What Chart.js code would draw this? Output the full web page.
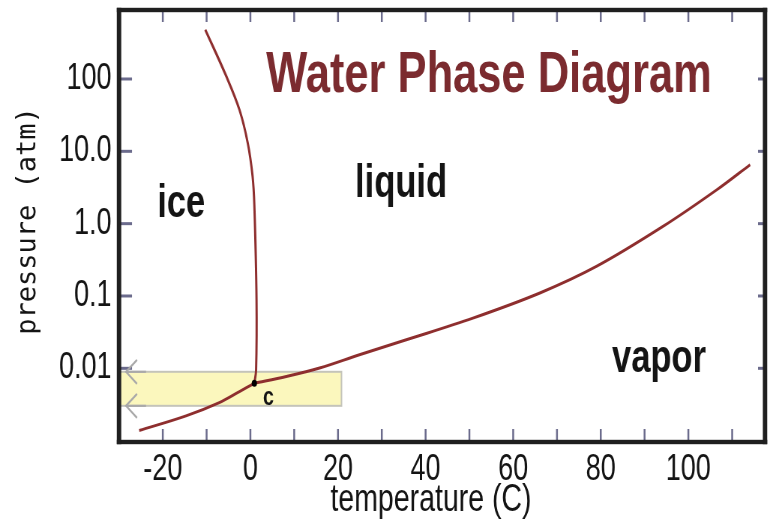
<!DOCTYPE html>
<html><head><meta charset="utf-8">
<script src="https://cdn.jsdelivr.net/npm/chart.js@4"></script>
<style>html,body{margin:0;padding:0;background:#fff;} canvas{display:block;}</style>
</head><body>
<canvas id="c" width="1027" height="524" style="width:770px;height:524px"></canvas>
<script>
// ---- data (temperature in C, pressure in atm) ----
const meltTemp = [-10.3, -5.5, -2.5, -0.6, 0.5, 0.9, 1.4, 1.3, 0.9];
const meltPres = [480, 109, 37.6, 13.0, 4.5, 1.8, 0.089, 0.0095, 0.0062];
const subTemp = [-25.4, -14.7, -7.1, -2.5, 0.9];
const subPres = [0.00138, 0.0022, 0.00336, 0.00477, 0.0062];
const vapTemp = [0.9, 8.2, 15.8, 24.9, 35.6, 50.8, 66.1, 79.0, 94.2, 106.5, 114.1];
const vapPres = [0.0062, 0.0077, 0.0101, 0.0154, 0.0248, 0.0494, 0.110, 0.256, 0.915, 2.94, 6.53];
const tripleTemp = [0.9];
const triplePres = [0.0062];
const boxTemp = [-30, 20.8];
const boxPres = [0.00303, 0.00895];
const xTickValues = [-30, -20, -10, 0, 10, 20, 30, 40, 50, 60, 70, 80, 90, 100, 110];
const xTickLabels = ['', '-20', '', '0', '', '20', '', '40', '', '60', '', '80', '', '100', ''];
const yTickValues = [0.01, 0.1, 1, 10, 100];
const yTickLabels = ['0.01', '0.1', '1.0', '10.0', '100'];
const regionNames = ['ice', 'liquid', 'vapor', 'c'];
const regionTemp = [-15.8, 34.4, 93.3, 4.1];
const regionPres = [1.24, 2.35, 0.00895, 0.00313];
const titleText = 'Water Phase Diagram';
const xTitle = 'temperature (C)';
const yTitle = 'pressure (atm)';

// ---- styling / layout ----
const SX = 1027 / 770; // canvas drawn wide, displayed horizontally squeezed
const curveColor = '#8e2e2e';
const tickColor = '#6b6b8c';
const frameColor = '#1f1f1f';
const textColor = '#141414';
const FONT = '"Liberation Sans", Arial, sans-serif';

const pts = (xs, ys) => xs.map((v, i) => ({x: v, y: ys[i]}));

const decor = {
  id: 'decor',
  beforeDraw(chart) {
    const c = chart.ctx; c.save(); c.fillStyle = '#fff'; c.fillRect(0, 0, chart.width, chart.height); c.restore();
  },
  beforeDatasetsDraw(chart) {
    const {ctx, chartArea: a, scales: {x, y}} = chart;
    ctx.save();
    const line = (x1, y1, x2, y2) => { ctx.beginPath(); ctx.moveTo(x1, y1); ctx.lineTo(x2, y2); ctx.stroke(); };
    ctx.strokeStyle = tickColor; ctx.lineWidth = 2.5;
    x.ticks.forEach(t => { const px = x.getPixelForValue(t.value); line(px, a.bottom, px, a.bottom - 13); line(px, a.top, px, a.top + 12); });
    y.ticks.forEach(t => { const py = y.getPixelForValue(t.value); ctx.lineWidth = 3; line(a.left, py, a.left + 13 * SX, py); line(a.right, py, a.right - 7 * SX, py); });
    // highlight box
    const bx0 = x.getPixelForValue(boxTemp[0]), bx1 = x.getPixelForValue(boxTemp[1]);
    const by0 = y.getPixelForValue(boxPres[1]), by1 = y.getPixelForValue(boxPres[0]);
    ctx.fillStyle = '#fbf7bd';
    ctx.fillRect(bx0, by0, bx1 - bx0, by1 - by0);
    ctx.strokeStyle = '#c4c4ba'; ctx.lineWidth = 2;
    ctx.strokeRect(bx0, by0, bx1 - bx0, by1 - by0);
    // arrows pointing to the pressure axis
    ctx.strokeStyle = '#a9a9a9'; ctx.lineWidth = 2.2;
    boxPres.forEach(p => {
      const py = y.getPixelForValue(p);
      const tip = a.left + 7 * SX;
      ctx.beginPath(); ctx.moveTo(tip + 11 * SX, py - 12); ctx.lineTo(tip, py); ctx.lineTo(tip + 11 * SX, py + 12); ctx.stroke();
      ctx.beginPath(); ctx.moveTo(tip, py); ctx.lineTo(tip + 20 * SX, py); ctx.stroke();
    });
    ctx.restore();
  },
  afterDatasetsDraw(chart) {
    const {ctx, chartArea: a} = chart;
    ctx.save();
    ctx.fillStyle = frameColor;
    const hw = 2.2, vw = 2.2 * SX;
    ctx.fillRect(a.left - vw, a.top - hw, a.right - a.left + 2 * vw, 2 * hw);
    ctx.fillRect(a.left - vw, a.bottom - hw, a.right - a.left + 2 * vw, 2 * hw);
    ctx.fillRect(a.left - vw, a.top - hw, 2 * vw, a.bottom - a.top + 2 * hw);
    ctx.fillRect(a.right - vw, a.top - hw, 2 * vw, a.bottom - a.top + 2 * hw);
    ctx.restore();
  },
  afterDraw(chart) {
    const {ctx, chartArea: a, scales: {x, y}} = chart;
    ctx.save();
    ctx.textAlign = 'center'; ctx.textBaseline = 'alphabetic';
    // title
    ctx.fillStyle = '#7b2b2f';
    ctx.font = 'bold 58px ' + FONT;
    ctx.fillText(titleText, 489 * SX, 92);
    // region labels
    ctx.fillStyle = textColor;
    regionNames.forEach((n, i) => {
      ctx.font = (n === 'c' ? 'bold 26px ' : 'bold 46px ') + FONT;
      ctx.fillText(n, x.getPixelForValue(regionTemp[i]), y.getPixelForValue(regionPres[i]));
    });
    // axis titles
    ctx.font = '38px ' + FONT;
    ctx.fillText(xTitle, 431 * SX, 511);
    ctx.save();
    ctx.translate(28 * SX, 221);
    ctx.rotate(-Math.PI / 2);
    ctx.scale(1, SX);
    ctx.textBaseline = 'middle';
    ctx.font = '27px "DejaVu Sans Mono", "Liberation Mono", monospace';
    ctx.fillText(yTitle, 0, 0);
    ctx.restore();
    ctx.restore();
  }
};

const curve = (data) => ({data, showLine: true, borderColor: curveColor, borderWidth: 3, pointRadius: 0, tension: 0.35, fill: false});

new Chart(document.getElementById('c'), {
  type: 'scatter',
  data: {
    datasets: [
      {data: pts(tripleTemp, triplePres), showLine: false, pointRadius: 3.5, pointBackgroundColor: '#000', pointBorderColor: '#000', pointBorderWidth: 0},
      curve(pts(meltTemp, meltPres)),
      curve(pts(subTemp, subPres)),
      curve(pts(vapTemp, vapPres))
    ]
  },
  options: {
    responsive: false,
    devicePixelRatio: 1,
    animation: false,
    events: [],
    layout: {padding: {left: 0, right: 5 * SX, top: 10, bottom: 0}},
    plugins: {legend: {display: false}, tooltip: {enabled: false}, title: {display: false}},
    scales: {
      x: {
        type: 'linear', min: -30, max: 117.5,
        grid: {display: false}, border: {display: false},
        afterFit(s) { s.height = 82; s.paddingLeft = 0; s.paddingRight = 0; },
        afterBuildTicks(s) { s.ticks = xTickValues.map(v => ({value: v})); },
        ticks: {autoSkip: false, maxRotation: 0, padding: 2, color: textColor,
          font: {family: FONT, size: 36, lineHeight: 1},
          callback: (v, i) => xTickLabels[i]}
      },
      y: {
        type: 'logarithmic', min: 0.000958, max: 899,
        grid: {display: false}, border: {display: false},
        afterFit(s) { s.width = 119 * SX; s.paddingTop = 0; s.paddingBottom = 0; },
        afterBuildTicks(s) { s.ticks = yTickValues.map(v => ({value: v})); },
        ticks: {autoSkip: false, padding: 2, color: textColor,
          font: {family: FONT, size: 36},
          callback: (v, i) => yTickLabels[i]}
      }
    }
  },
  plugins: [decor]
});
</script>
</body></html>
